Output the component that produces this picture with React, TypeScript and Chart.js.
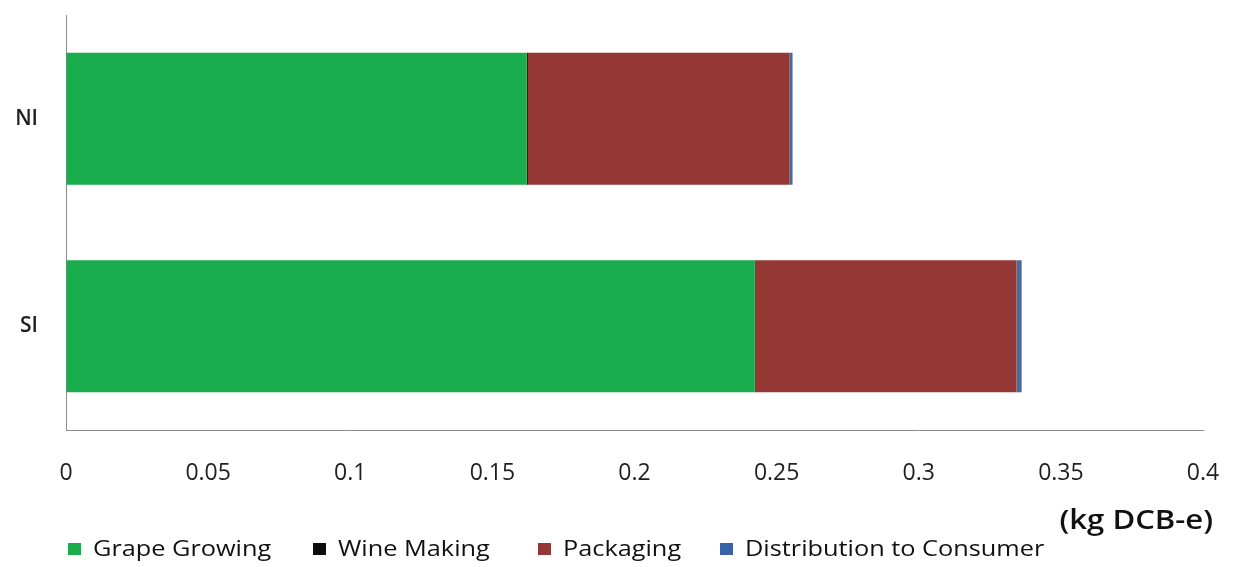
import React, { useEffect, useRef } from "react";
import { Chart, registerables } from "chart.js";

Chart.register(...registerables);

// Regions on the vertical axis
const categories = ["NI", "SI"];

// Life-cycle stage contributions (kg DCB-e)
const grapeGrowing = [0.1621, 0.2423];
const wineMaking = [0.0004, 0.0003];
const packaging = [0.0921, 0.0918];
const distribution = [0.001, 0.0018];

const seriesLabels = [
  "Grape Growing",
  "Wine Making",
  "Packaging",
  "Distribution to Consumer",
];
const seriesColors = ["#1aad4e", "#0d0d0d", "#943735", "#4a6a9e"];

const xTickLabels = ["0", "0.05", "0.1", "0.15", "0.2", "0.25", "0.3", "0.35", "0.4"];
const unitLabel = "(kg DCB-e)";

// Left edge of each legend entry
const LEGEND_X = [68, 313, 538, 720];
const TEXT_STRETCH = 1.15;

const bottomLegend = {
  id: "bottomLegend",
  afterDraw(chart: any) {
    const ctx = chart.ctx as CanvasRenderingContext2D;
    ctx.save();
    ctx.textBaseline = "middle";
    chart.data.datasets.forEach((ds: any, i: number) => {
      const x = LEGEND_X[i];
      ctx.fillStyle = i === 3 ? "#3a62a8" : ds.backgroundColor;
      ctx.fillRect(x, 543, 13, 12);
      ctx.save();
      ctx.translate(x + 25, 550);
      ctx.scale(TEXT_STRETCH, 1);
      ctx.font = '500 22px "Open Sans"';
      ctx.fillStyle = "#111111";
      ctx.textAlign = "left";
      ctx.fillText(ds.label, 0, 0);
      ctx.restore();
    });
    // unit label under the right end of the value axis
    ctx.save();
    ctx.translate(1213, 521);
    ctx.scale(TEXT_STRETCH, 1);
    ctx.font = '600 27px "Open Sans"';
    ctx.fillStyle = "#111111";
    ctx.textAlign = "right";
    ctx.fillText(unitLabel, 0, 0);
    ctx.restore();
    ctx.restore();
  },
};

export default function App() {
  const canvasRef = useRef<HTMLCanvasElement | null>(null);

  useEffect(() => {
    if (!canvasRef.current) return;
    const values = [grapeGrowing, wineMaking, packaging, distribution];
    const chart = new Chart(canvasRef.current, {
      type: "bar",
      data: {
        labels: categories,
        datasets: values.map((data, i) => ({
          label: seriesLabels[i],
          data,
          backgroundColor: seriesColors[i],
          borderWidth: 0,
          barPercentage: 0.636,
          categoryPercentage: 1,
        })),
      },
      options: {
        indexAxis: "y",
        animation: false,
        responsive: true,
        maintainAspectRatio: false,
        layout: { padding: { top: 15, right: 38, left: 0, bottom: 0 } },
        plugins: {
          legend: { display: false },
          tooltip: { enabled: false },
          title: { display: false },
        },
        scales: {
          x: {
            stacked: true,
            min: 0,
            max: 0.4,
            ticks: {
              stepSize: 0.05,
              padding: 30,
              maxRotation: 0,
              autoSkip: false,
              color: "#1f1f1f",
              font: { family: '"Open Sans"', size: 23, weight: "500" },
              callback: (_v: any, i: number) => xTickLabels[i],
            },
            grid: { color: "rgba(0,0,0,0)", drawTicks: false },
            border: { display: true, color: "#8c8c8c", width: 1 },
            afterFit: (scale: any) => {
              scale.height = 137;
              scale.paddingLeft = 0;
              scale.paddingRight = 0;
            },
          },
          y: {
            stacked: true,
            ticks: {
              padding: 28,
              color: "#1f1f1f",
              font: { family: '"Open Sans"', size: 21, weight: "600" },
            },
            grid: { color: "rgba(0,0,0,0)", drawTicks: false },
            border: { display: true, color: "#8c8c8c", width: 1 },
            afterFit: (scale: any) => {
              scale.width = 66;
              scale.paddingTop = 0;
              scale.paddingBottom = 0;
            },
          },
        },
      },
      plugins: [bottomLegend],
    });
    return () => chart.destroy();
  }, []);

  return (
    <div
      style={{
        position: "fixed",
        left: 0,
        top: 0,
        width: 1241,
        height: 567,
        background: "#ffffff",
      }}
    >
      <canvas ref={canvasRef} />
    </div>
  );
}
